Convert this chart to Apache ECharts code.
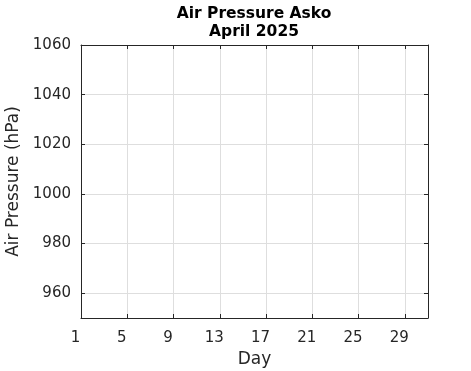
<!DOCTYPE html>
<html>
<head>
<meta charset="utf-8">
<script src="https://cdn.jsdelivr.net/npm/echarts@6/dist/echarts.min.js"></script>
<style>
html,body{margin:0;padding:0;background:#fff;}
#chart{width:471px;height:371px;}
</style>
</head>
<body>
<div id="chart"></div>
<script>
// Data (the reference shows no measurements for this month)
const days = [];
const pressure = [];
// Axis ticks
const xTicks = [1, 5, 9, 13, 17, 21, 25, 29];
const yTicks = [960, 980, 1000, 1020, 1040, 1060];
const xRange = [1, 31];
const yRange = [950, 1060];

const FONT = 'DejaVu Sans';
const TXT = '#262626';
const GRID = '#dedede';

const seriesData = days.map((d, i) => [d, pressure[i]]);

function xAx(pos, show) {
  return {
    type: 'value', position: pos, min: xRange[0], max: xRange[1],
    name: show ? 'Day' : '', nameLocation: 'middle', nameGap: 33,
    nameTextStyle: {fontFamily: FONT, fontSize: 17, color: TXT},
    axisLine: {show: true, onZero: false, lineStyle: {color: TXT, width: 1}},
    axisTick: {show: true, inside: true, length: 4, lineStyle: {color: TXT}, customValues: xTicks},
    axisLabel: {show: show, margin: 13, fontFamily: FONT, fontSize: 15, color: TXT, customValues: xTicks,
                padding: [0, 11, 0, 0], formatter: v => String(v)},
    splitLine: {show: show, lineStyle: {color: GRID, width: 1}}
  };
}
function yAx(pos, show) {
  return {
    type: 'value', position: pos, min: yRange[0], max: yRange[1],
    name: show ? 'Air Pressure (hPa)' : '', nameLocation: 'middle', nameGap: 58, nameRotate: 90,
    nameTextStyle: {fontFamily: FONT, fontSize: 17, color: TXT},
    axisLine: {show: true, onZero: false, lineStyle: {color: TXT, width: 1}},
    axisTick: {show: true, inside: true, length: 4, lineStyle: {color: TXT}, customValues: yTicks},
    axisLabel: {show: show, margin: 10, fontFamily: FONT, fontSize: 15, color: TXT, customValues: yTicks,
                formatter: v => String(v)},
    splitLine: {show: show, lineStyle: {color: GRID, width: 1}}
  };
}

const chart = echarts.init(document.getElementById('chart'), null, {renderer: 'canvas'});
chart.setOption({
  backgroundColor: '#fff',
  animation: false,
  title: {
    text: 'Air Pressure Asko\nApril 2025',
    left: 249, top: 0, textAlign: 'center',
    textStyle: {fontFamily: FONT, fontSize: 15.5, fontWeight: 'bold', color: '#000', lineHeight: 18}
  },
  grid: {left: 81, right: 43, top: 45, bottom: 53, containLabel: false, outerBoundsMode: 'none'},
  xAxis: [xAx('bottom', true), xAx('top', false)],
  yAxis: [yAx('left', true), yAx('right', false)],
  series: [{
    type: 'line', name: 'Air Pressure', data: seriesData,
    xAxisIndex: 0, yAxisIndex: 0, showSymbol: false,
    lineStyle: {color: '#0072bd', width: 1}
  }]
});
</script>
</body>
</html>
